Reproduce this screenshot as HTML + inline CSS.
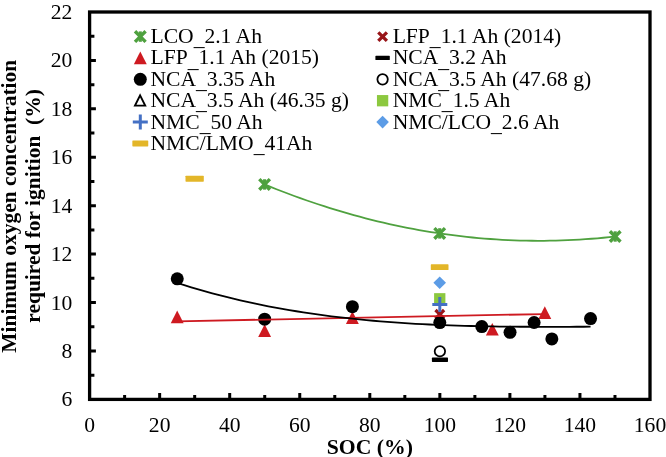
<!DOCTYPE html><html><head><meta charset="utf-8"><style>html,body{margin:0;padding:0;background:#fff;}svg{display:block;will-change:transform;}text{font-family:"Liberation Serif",serif;}</style></head><body>
<svg width="666" height="457" viewBox="0 0 666 457">
<path d="M124.62 399.4V394.90 M159.65 399.4V393.10 M194.68 399.4V394.90 M229.70 399.4V393.10 M264.73 399.4V394.90 M299.75 399.4V393.10 M334.77 399.4V394.90 M369.80 399.4V393.10 M404.83 399.4V394.90 M439.85 399.4V393.10 M474.88 399.4V394.90 M509.90 399.4V393.10 M544.92 399.4V394.90 M579.95 399.4V393.10 M614.98 399.4V394.90 M89.6 375.15H94.40 M89.6 350.94H95.90 M89.6 326.73H94.40 M89.6 302.52H95.90 M89.6 278.31H94.40 M89.6 254.10H95.90 M89.6 229.89H94.40 M89.6 205.68H95.90 M89.6 181.47H94.40 M89.6 157.26H95.90 M89.6 133.05H94.40 M89.6 108.84H95.90 M89.6 84.63H94.40 M89.6 60.42H95.90 M89.6 36.21H94.40" stroke="#000" stroke-width="3" fill="none"/>
<rect x="89.60" y="12" width="560.40" height="387.40" fill="none" stroke="#000" stroke-width="3.3"/>
<text x="89.60" y="431.6" font-size="21.6" text-anchor="middle">0</text>
<text x="159.65" y="431.6" font-size="21.6" text-anchor="middle">20</text>
<text x="229.70" y="431.6" font-size="21.6" text-anchor="middle">40</text>
<text x="299.75" y="431.6" font-size="21.6" text-anchor="middle">60</text>
<text x="369.80" y="431.6" font-size="21.6" text-anchor="middle">80</text>
<text x="439.85" y="431.6" font-size="21.6" text-anchor="middle">100</text>
<text x="509.90" y="431.6" font-size="21.6" text-anchor="middle">120</text>
<text x="579.95" y="431.6" font-size="21.6" text-anchor="middle">140</text>
<text x="650.00" y="431.6" font-size="21.6" text-anchor="middle">160</text>
<text x="72.3" y="406.36" font-size="21.6" text-anchor="end">6</text>
<text x="72.3" y="357.94" font-size="21.6" text-anchor="end">8</text>
<text x="72.3" y="309.52" font-size="21.6" text-anchor="end">10</text>
<text x="72.3" y="261.10" font-size="21.6" text-anchor="end">12</text>
<text x="72.3" y="212.68" font-size="21.6" text-anchor="end">14</text>
<text x="72.3" y="164.26" font-size="21.6" text-anchor="end">16</text>
<text x="72.3" y="115.84" font-size="21.6" text-anchor="end">18</text>
<text x="72.3" y="67.42" font-size="21.6" text-anchor="end">20</text>
<text x="72.3" y="19.00" font-size="21.6" text-anchor="end">22</text>
<text x="369.85" y="453.6" font-size="21.7" font-weight="bold" text-anchor="middle">SOC (%)</text>
<text transform="rotate(-90)" x="-206.25" y="16" font-size="21.45" font-weight="bold" text-anchor="middle">Minimum oxygen concentration</text>
<text transform="rotate(-90)" x="-205.95" y="40.3" font-size="21.45" font-weight="bold" text-anchor="middle" xml:space="preserve">required for ignition  (%)</text>
<g stroke="#4FA13F" stroke-width="3.4" fill="none"><path d="M259.30 179.15L269.90 189.75M259.30 189.75L269.90 179.15"/><path d="M264.60 179.25V189.65" stroke-width="3.1"/></g>
<g stroke="#4FA13F" stroke-width="3.4" fill="none"><path d="M434.40 228.10L445.00 238.70M434.40 238.70L445.00 228.10"/><path d="M439.70 228.20V238.60" stroke-width="3.1"/></g>
<g stroke="#4FA13F" stroke-width="3.4" fill="none"><path d="M609.90 231.20L620.50 241.80M609.90 241.80L620.50 231.20"/><path d="M615.20 231.30V241.70" stroke-width="3.1"/></g>
<path d="M435.50 310.00L444.10 318.60M435.50 318.60L444.10 310.00" stroke="#981519" stroke-width="3.3" fill="none"/>
<path d="M177.20 310.50L183.65 323.20L170.75 323.20Z" fill="#CE1A21"/>
<path d="M264.65 324.30L271.10 337.00L258.20 337.00Z" fill="#CE1A21"/>
<path d="M352.40 311.35L358.85 324.05L345.95 324.05Z" fill="#CE1A21"/>
<path d="M492.30 322.90L498.75 335.60L485.85 335.60Z" fill="#CE1A21"/>
<path d="M544.80 306.20L551.25 318.90L538.35 318.90Z" fill="#CE1A21"/>
<rect x="431.90" y="357.60" width="16.1" height="4.3" rx="0.6" fill="#000"/>
<circle cx="177.25" cy="278.80" r="6.5" fill="#000"/>
<circle cx="264.65" cy="319.15" r="6.5" fill="#000"/>
<circle cx="352.40" cy="306.65" r="6.5" fill="#000"/>
<circle cx="439.80" cy="322.60" r="6.5" fill="#000"/>
<circle cx="481.80" cy="326.60" r="6.5" fill="#000"/>
<circle cx="510.05" cy="332.35" r="6.5" fill="#000"/>
<circle cx="534.10" cy="322.50" r="6.5" fill="#000"/>
<circle cx="551.85" cy="338.95" r="6.5" fill="#000"/>
<circle cx="590.55" cy="318.55" r="6.5" fill="#000"/>
<circle cx="439.90" cy="351.25" r="5.2" fill="#fff" stroke="#000" stroke-width="1.8"/>
<rect x="434.10" y="293.15" width="11.3" height="11.3" fill="#8CC83F"/>
<path d="M432.30 304.40H447.30M439.80 296.90V311.90" stroke="#4470C4" stroke-width="3" fill="none"/>
<path d="M439.70 276.40L446.00 282.70L439.70 289.00L433.40 282.70Z" fill="#5C9CE6"/>
<rect x="185.50" y="175.70" width="18.3" height="6" rx="0.6" fill="#E3B629"/>
<rect x="430.80" y="264.30" width="17.7" height="5.8" rx="0.6" fill="#E3B629"/>
<path d="M264.60 184.45 L270.54 186.86 L276.48 189.22 L282.43 191.53 L288.37 193.78 L294.31 195.98 L300.25 198.13 L306.20 200.23 L312.14 202.27 L318.08 204.26 L324.02 206.20 L329.97 208.08 L335.91 209.91 L341.85 211.69 L347.79 213.42 L353.74 215.09 L359.68 216.71 L365.62 218.28 L371.56 219.80 L377.51 221.26 L383.45 222.67 L389.39 224.03 L395.33 225.33 L401.27 226.58 L407.22 227.78 L413.16 228.93 L419.10 230.02 L425.04 231.06 L430.99 232.05 L436.93 232.98 L442.87 233.86 L448.81 234.69 L454.76 235.47 L460.70 236.19 L466.64 236.87 L472.58 237.48 L478.53 238.05 L484.47 238.56 L490.41 239.02 L496.35 239.43 L502.29 239.78 L508.24 240.09 L514.18 240.34 L520.12 240.53 L526.06 240.68 L532.01 240.77 L537.95 240.80 L543.89 240.79 L549.83 240.72 L555.78 240.60 L561.72 240.43 L567.66 240.20 L573.60 239.93 L579.55 239.59 L585.49 239.21 L591.43 238.77 L597.37 238.28 L603.32 237.74 L609.26 237.15 L615.20 236.50" stroke="#4FA13F" stroke-width="1.8" fill="none"/>
<path d="M177.20 321.33 L544.90 314.03" stroke="#CE1A21" stroke-width="1.8" fill="none"/>
<path d="M177.25 283.01 L184.26 285.21 L191.26 287.35 L198.27 289.41 L205.27 291.40 L212.28 293.32 L219.28 295.16 L226.29 296.94 L233.29 298.66 L240.30 300.30 L247.30 301.89 L254.31 303.41 L261.31 304.86 L268.32 306.26 L275.32 307.60 L282.33 308.87 L289.33 310.10 L296.34 311.26 L303.34 312.37 L310.35 313.43 L317.35 314.44 L324.36 315.39 L331.36 316.30 L338.37 317.16 L345.37 317.97 L352.38 318.73 L359.38 319.46 L366.39 320.13 L373.39 320.77 L380.40 321.37 L387.40 321.92 L394.41 322.44 L401.41 322.93 L408.42 323.37 L415.42 323.78 L422.43 324.16 L429.43 324.51 L436.44 324.83 L443.44 325.12 L450.45 325.38 L457.45 325.61 L464.46 325.82 L471.46 326.01 L478.47 326.17 L485.47 326.31 L492.48 326.43 L499.48 326.53 L506.49 326.62 L513.49 326.68 L520.50 326.74 L527.50 326.77 L534.51 326.80 L541.51 326.81 L548.52 326.82 L555.52 326.81 L562.53 326.80 L569.53 326.78 L576.54 326.76 L583.54 326.73 L590.55 326.70" stroke="#000" stroke-width="1.8" fill="none"/>
<g stroke="#4FA13F" stroke-width="3.4" fill="none"><path d="M135.00 31.30L145.60 41.90M135.00 41.90L145.60 31.30"/><path d="M140.30 31.40V41.80" stroke-width="3.1"/></g>
<text x="150.45" y="43.10" font-size="21.6">LCO<tspan dy="2.1">_</tspan><tspan dy="-2.1">2.1 Ah</tspan></text>
<path d="M140.30 51.62L146.75 64.32L133.85 64.32Z" fill="#CE1A21"/>
<text x="150.45" y="64.47" font-size="21.6">LFP<tspan dy="2.1">_</tspan><tspan dy="-2.1">1.1 Ah (2015)</tspan></text>
<circle cx="140.30" cy="79.34" r="6.5" fill="#000"/>
<text x="150.45" y="85.84" font-size="21.6">NCA<tspan dy="2.1">_</tspan><tspan dy="-2.1">3.35 Ah</tspan></text>
<path d="M140.10 95.41L145.20 105.61L135.00 105.61Z" fill="#fff" stroke="#000" stroke-width="1.9"/>
<text x="150.45" y="107.21" font-size="21.6">NCA<tspan dy="2.1">_</tspan><tspan dy="-2.1">3.5 Ah (46.35 g)</tspan></text>
<path d="M132.80 122.08H147.80M140.30 114.58V129.58" stroke="#4470C4" stroke-width="3" fill="none"/>
<text x="150.45" y="128.58" font-size="21.6">NMC<tspan dy="2.1">_</tspan><tspan dy="-2.1">50 Ah</tspan></text>
<rect x="132.35" y="140.45" width="15.9" height="6" rx="0.6" fill="#E3B629"/>
<text x="150.45" y="149.95" font-size="21.6">NMC/LMO<tspan dy="2.1">_</tspan><tspan dy="-2.1">41Ah</tspan></text>
<path d="M378.30 32.30L386.90 40.90M378.30 40.90L386.90 32.30" stroke="#981519" stroke-width="3.3" fill="none"/>
<text x="392.65" y="43.10" font-size="21.6">LFP<tspan dy="2.1">_</tspan><tspan dy="-2.1">1.1 Ah (2014)</tspan></text>
<rect x="375.40" y="55.87" width="14.4" height="4.2" rx="0.6" fill="#000"/>
<text x="392.65" y="64.47" font-size="21.6">NCA<tspan dy="2.1">_</tspan><tspan dy="-2.1">3.2 Ah</tspan></text>
<circle cx="382.60" cy="79.34" r="5.2" fill="#fff" stroke="#000" stroke-width="1.8"/>
<text x="392.65" y="85.84" font-size="21.6">NCA<tspan dy="2.1">_</tspan><tspan dy="-2.1">3.5 Ah (47.68 g)</tspan></text>
<rect x="376.95" y="95.06" width="11.3" height="11.3" fill="#8CC83F"/>
<text x="392.65" y="107.21" font-size="21.6">NMC<tspan dy="2.1">_</tspan><tspan dy="-2.1">1.5 Ah</tspan></text>
<path d="M382.60 115.78L388.90 122.08L382.60 128.38L376.30 122.08Z" fill="#5C9CE6"/>
<text x="392.65" y="128.58" font-size="21.6">NMC/LCO<tspan dy="2.1">_</tspan><tspan dy="-2.1">2.6 Ah</tspan></text>
</svg></body></html>
